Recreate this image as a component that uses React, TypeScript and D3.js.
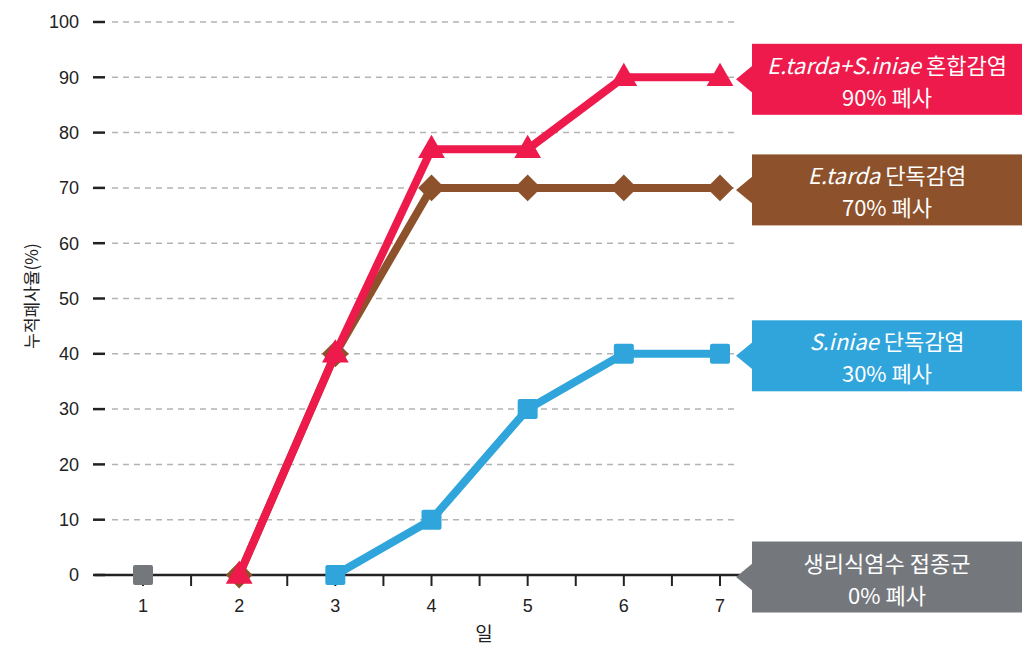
import * as d3 from "d3";

// days on x axis
const days = [1, 2, 3, 4, 5, 6, 7];
const yTicks = [0, 10, 20, 30, 40, 50, 60, 70, 80, 90, 100];

// cumulative mortality (%) per group
const mixedDays = [2, 3, 4, 5, 6, 7];
const mixedValues = [0, 40, 77, 77, 90, 90];
const tardaDays = [2, 3, 4, 5, 6, 7];
const tardaValues = [0, 40, 70, 70, 70, 70];
const iniaeDays = [3, 4, 5, 6, 7];
const iniaeValues = [0, 10, 30, 40, 40];
const salineDays = [1];
const salineValues = [0];

const W = 1024;
const H = 646;
const KR = "'Noto Sans CJK KR', 'Noto Sans', sans-serif";
const NUM = "'Liberation Sans', Arial, sans-serif";

const x = d3.scaleLinear().domain([1, 7]).range([143, 720]);
const y = d3.scaleLinear().domain([0, 100]).range([575, 22]);

type Series = {
  days: number[];
  values: number[];
  color: string;
  marker: "triangle" | "diamond" | "square";
  italic: string;
  label: string;
  pct: string;
};

const series: Series[] = [
  { days: salineDays, values: salineValues, color: "#74787d", marker: "square", italic: "", label: "생리식염수 접종군", pct: "0% 폐사" },
  { days: iniaeDays, values: iniaeValues, color: "#30a5dc", marker: "square", italic: "S.iniae", label: " 단독감염", pct: "30% 폐사" },
  { days: tardaDays, values: tardaValues, color: "#8d522b", marker: "diamond", italic: "E.tarda", label: " 단독감염", pct: "70% 폐사" },
  { days: mixedDays, values: mixedValues, color: "#ed1a4b", marker: "triangle", italic: "E.tarda+S.iniae", label: " 혼합감염", pct: "90% 폐사" },
];

const line = d3.line<[number, number]>().x(d => x(d[0])).y(d => y(d[1]));
const triangle = d3.symbol().type(d3.symbolTriangle).size(310)()!;
const diamond = d3.symbol().type(d3.symbolSquare).size(360)()!;

function Marker({ s, dx, dy }: { s: Series; dx: number; dy: number }) {
  const cx = x(dx);
  const cy = y(dy);
  if (s.marker === "square") {
    return <rect x={cx - 10} y={cy - 10} width={20} height={20} rx={2} fill={s.color} />;
  }
  if (s.marker === "diamond") {
    return <path d={diamond} transform={`translate(${cx},${cy}) rotate(45)`} fill={s.color} />;
  }
  return <path d={triangle} transform={`translate(${cx},${cy + 1})`} fill={s.color} />;
}

function Callout({ s }: { s: Series }) {
  const last = s.values[s.values.length - 1];
  const cy = y(last) + 2;
  const bx = 752;
  const bw = 270;
  const bh = 71;
  const top = cy - bh / 2;
  const cx = bx + bw / 2;
  return (
    <g>
      <path d={`M${bx - 16},${cy} L${bx + 1},${cy - 14} L${bx + 1},${cy + 14} Z`} fill={s.color} />
      <rect x={bx} y={top} width={bw} height={bh} fill={s.color} />
      <text x={cx} y={top + 30} textAnchor="middle" fill="#fff" fontFamily={KR} fontSize={22}>
        {s.italic && <tspan fontStyle="italic">{s.italic}</tspan>}
        <tspan>{s.label}</tspan>
      </text>
      <text x={cx} y={top + 62} textAnchor="middle" fill="#fff" fontFamily={KR} fontSize={22}>
        {s.pct}
      </text>
    </g>
  );
}

export default function App() {
  const halfTicks = d3.range(1, 7.01, 0.5);
  return (
    <svg width={W} height={H} style={{ position: "absolute", left: 0, top: 0, background: "#fff" }}>
      {/* grid + y ticks */}
      {yTicks.map(t => (
        <g key={t}>
          {t > 0 && (
            <line x1={112} x2={736} y1={y(t)} y2={y(t)} stroke="#b3b3b3" strokeWidth={1.5} strokeDasharray="6 5" />
          )}
          <line x1={93} x2={105} y1={y(t)} y2={y(t)} stroke="#222" strokeWidth={2.5} />
          <text x={79} y={y(t)} dy="0.35em" textAnchor="end" fontFamily={NUM} fontSize={18} fill="#222">
            {t}
          </text>
        </g>
      ))}

      {/* x axis */}
      <line x1={x(0.5)} x2={740} y1={y(0)} y2={y(0)} stroke="#222" strokeWidth={2.5} />
      {halfTicks.map(t => (
        <line key={t} x1={x(t)} x2={x(t)} y1={y(0)} y2={y(0) + 11} stroke="#222" strokeWidth={2} />
      ))}
      {days.map(d => (
        <text key={d} x={x(d)} y={612} textAnchor="middle" fontFamily={NUM} fontSize={18} fill="#222">
          {d}
        </text>
      ))}
      <text x={484} y={641} textAnchor="middle" fontFamily={KR} fontSize={19} fill="#222">
        일
      </text>
      <text
        transform="translate(38,296) rotate(-90)"
        textAnchor="middle"
        fontFamily={KR}
        fontSize={17}
        fill="#222"
      >
        누적폐사율(%)
      </text>

      {/* series */}
      {series.map(s => {
        const pts = s.days.map((d, i) => [d, s.values[i]] as [number, number]);
        return (
          <g key={s.color}>
            {pts.length > 1 && (
              <path d={line(pts) ?? ""} fill="none" stroke={s.color} strokeWidth={8} strokeLinejoin="round" />
            )}
            {pts.map(p => (
              <Marker key={p[0]} s={s} dx={p[0]} dy={p[1]} />
            ))}
          </g>
        );
      })}

      {series.map(s => (
        <Callout key={s.color} s={s} />
      ))}
    </svg>
  );
}
